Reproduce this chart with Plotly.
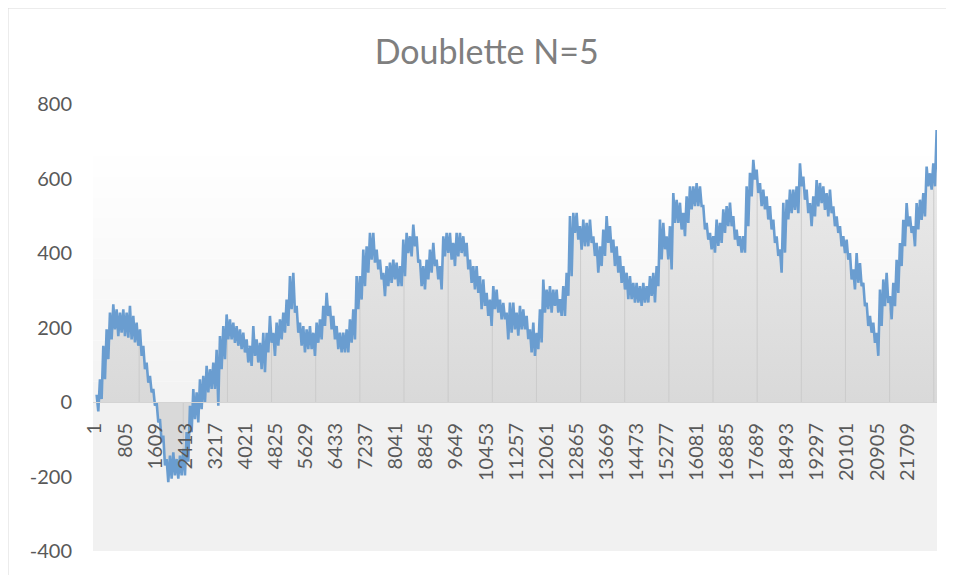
import numpy as np
import plotly.graph_objects as go

# ---- data ----
N_POINTS = 22500                 # number of categories in the series
SAMPLE_STEP = 89.1               # categories between two readings
FIRST_SAMPLE = 45                # category of the first reading

# upper and lower edge of the noisy curve band, one reading per sample
band_hi = [
    20, 61, 151, 195, 240, 262, 249, 240, 249, 240, 258, 231, 213, 195, 151, 106, 70, 35, -1, -46,
    -90, -153, -144, -135, -153, -144, -126, -81, -10, 35, 26, 61, 70, 97, 88, 106, 140, 177, 204, 235,
    222, 213, 204, 195, 186, 168, 151, 204, 168, 159, 186, 186, 231, 186, 213, 222, 240, 275, 338, 347,
    258, 213, 204, 195, 204, 186, 213, 222, 258, 293, 258, 231, 204, 186, 186, 195, 222, 249, 338, 338,
    409, 418,
    454, 454, 409, 382, 347, 365, 374, 382, 374, 365, 436, 454, 445, 476, 445, 382, 365, 382, 409, 427,
    382, 365, 445, 454, 454, 427, 454, 454, 445, 427, 382, 365, 365, 338, 329, 293, 275, 311, 302, 275,
    266, 240,
    267, 267, 240, 258, 249, 231, 195, 213, 186, 249, 329, 302, 311, 302, 302, 276, 311, 347, 499, 508,
    508, 472, 490, 481, 490, 445, 427, 418, 463, 499, 472, 436, 418, 392, 365, 347, 338, 320, 320, 311,
    320, 311,
    338, 347, 365, 490, 481, 445, 472, 561, 543, 535, 508, 552, 579, 579, 588, 579, 526, 481, 454, 445,
    490, 481, 517, 526, 535, 499, 463, 445, 445, 579, 615, 650, 624, 588, 570, 552, 526, 490, 445, 410,
    535, 543,
    570, 570, 579, 641, 605, 570, 534, 552, 596, 588, 579, 561, 570, 525, 498, 472, 445, 436, 400, 356,
    400, 373, 320, 266, 231, 213, 186, 302, 329, 347, 284, 320, 382, 427, 489, 534, 498, 472, 534, 543,
    561, 632, 614, 641, 730,
]
band_lo = [
    -25, 8, 61, 115, 168, 195, 177, 186, 177, 173, 168, 160, 151, 124, 88, 52, 26, -10, -55, -108,
    -170, -215, -206, -197, -206, -197, -197, -160, -81, -46, -55, -19, -1, 26, 35, 35, -10, 88, 115, 168,
    168, 159, 151, 142, 133, 106, 97, 124, 106, 88, 80, 133, 159, 124, 151, 168, 186, 204, 249, 240,
    186, 151, 133, 142, 142, 124, 159, 168, 204, 231, 195, 168, 142, 133, 133, 133, 159, 168, 249, 275,
    311, 347,
    382, 374, 356, 329, 284, 311, 320, 329, 311, 311, 338, 400, 391, 418, 374, 311, 302, 329, 347, 365,
    329, 302, 391, 400, 382, 365, 391, 400, 391, 356, 320, 302, 293, 249, 258, 231, 204, 249, 240, 222,
    222, 168,
    186, 195, 178, 195, 195, 169, 133, 124, 142, 160, 240, 249, 240, 258, 240, 231, 231, 285, 338, 454,
    436, 409, 418, 418, 427, 392, 347, 365, 392, 427, 401, 365, 347, 320, 302, 276, 276, 267, 267, 258,
    267, 267,
    285, 267, 311, 383, 410, 383, 356, 481, 481, 463, 445, 481, 517, 526, 526, 526, 463, 436, 410, 401,
    419, 427, 454, 472, 472, 436, 419, 401, 401, 472, 552, 597, 561, 526, 517, 490, 463, 427, 392, 347,
    401, 490,
    507, 516, 507, 579, 543, 507, 472, 498, 525, 534, 516, 498, 507, 472, 454, 418, 400, 382, 329, 302,
    320, 311, 257, 204, 186, 159, 124, 204, 257, 266, 222, 257, 293, 365, 418, 472, 454, 418, 463, 489,
    498, 579, 570, 579, 614,
]

tick_labels = [1, 805, 1609, 2413, 3217, 4021, 4825, 5629, 6433, 7237, 8041, 8845, 9649, 10453,
               11257, 12061, 12865, 13669, 14473, 15277, 16081, 16885, 17689, 18493, 19297,
               20101, 20905, 21709]
y_ticks = [-400, -200, 0, 200, 400, 600, 800]
GRID_EVERY = 1180   # vertical lines drawn under the curve
TITLE = "Doublette N=5"

# ---- build the series ----
hi = np.array(band_hi, dtype=float)
lo = np.array(band_lo, dtype=float)
pos = FIRST_SAMPLE + SAMPLE_STEP * np.arange(len(hi))
xs = np.empty(2 * len(hi))
ys = np.empty(2 * len(hi))
xs[0::2] = pos
xs[1::2] = pos + SAMPLE_STEP / 2
ys[0::2] = hi
ys[1::2] = lo

# vertical lines from 0 up to the curve
grid_x, grid_y = [], []
for c in range(1 + GRID_EVERY, N_POINTS, GRID_EVERY):
    k = int(np.argmin(np.abs(pos - c)))
    v = (hi[k] + lo[k]) / 2
    grid_x += [c, c, None]
    grid_y += [0, v, None]

FONT = "Lato, 'Liberation Sans', Arial, sans-serif"
TICK_COLOR = "#595959"

fig = go.Figure()
fig.add_trace(go.Scatter(
    x=xs, y=ys, mode="lines", line=dict(width=0, color="rgba(0,0,0,0)"),
    fill="tozeroy",
    fillgradient=dict(type="vertical", colorscale=[[0, "#d9d9d9"], [1, "#ececec"]],
                      start=0, stop=700),
    hoverinfo="skip", showlegend=False))
fig.add_trace(go.Scatter(
    x=grid_x, y=grid_y, mode="lines", line=dict(width=1, color="#cbcbcb"),
    hoverinfo="skip", showlegend=False))
fig.add_trace(go.Scatter(
    x=xs, y=ys, mode="lines", line=dict(width=2.6, color="#6a9dd0"),
    hoverinfo="skip", showlegend=False))

# plot-area gradient background (bands)
shapes = []
shapes.append(dict(type="rect", xref="paper", yref="y", x0=0, x1=1, y0=-400, y1=0,
                   fillcolor="#f1f1f1", line=dict(width=0), layer="below"))
n_bands = 12
top = 660
for i in range(n_bands):
    y0 = top * i / n_bands
    y1 = top * (i + 1) / n_bands
    g = int(round(243 + (254 - 243) * i / (n_bands - 1)))
    shapes.append(dict(type="rect", xref="paper", yref="y", x0=0, x1=1, y0=y0, y1=y1,
                       fillcolor=f"rgb({g},{g},{g})", line=dict(width=0), layer="below"))
# chart border
shapes.append(dict(type="rect", xref="paper", yref="paper", x0=-0.1007, x1=1.0154,
                   y0=-0.07, y1=1.2148, line=dict(color="#d9d9d9", width=1),
                   fillcolor="rgba(0,0,0,0)", layer="below"))

fig.update_layout(
    width=946, height=567,
    margin=dict(l=85, r=17, t=96, b=24),
    paper_bgcolor="white", plot_bgcolor="white",
    showlegend=False,
    shapes=shapes,
    title=dict(text=TITLE, x=0.506, xref="container", xanchor="center",
               y=0.922, yref="container", yanchor="middle",
               font=dict(family=FONT, size=34, color="#7f7f7f")),
    xaxis=dict(range=[-52, 22508], tickmode="array", tickvals=tick_labels,
               ticktext=[str(t) for t in tick_labels], tickangle=-90,
               anchor="free", position=1/3,
               showgrid=False, zeroline=False, showline=True, linecolor="#d4d4d4",
               ticks="", ticklabelstandoff=12,
               tickfont=dict(family=FONT, size=20, color=TICK_COLOR)),
    yaxis=dict(range=[-400, 800], tickmode="array", tickvals=y_ticks,
               ticktext=[str(t) for t in y_ticks],
               showgrid=False, zeroline=False, showline=False, ticks="",
               ticklabelstandoff=20,
               tickfont=dict(family=FONT, size=20, color=TICK_COLOR)),
)

fig.write_html("out.html")
